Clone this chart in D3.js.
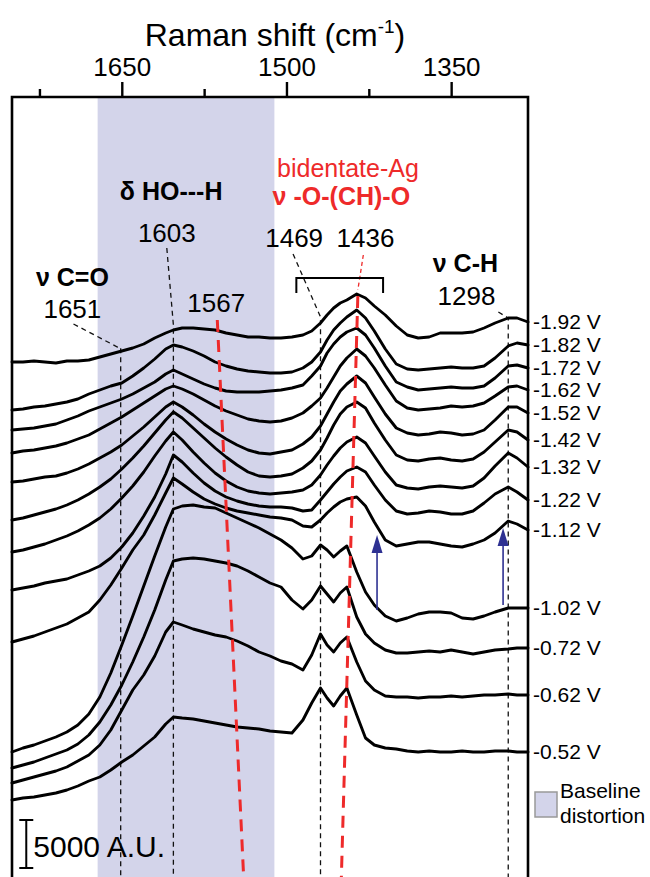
<!DOCTYPE html>
<html>
<head>
<meta charset="utf-8">
<script src="https://cdn.jsdelivr.net/npm/d3@7"></script>
<style>
  body { margin: 0; background: #fff; }
  svg { display: block; font-family: Arial, "Liberation Sans", sans-serif; }
</style>
</head>
<body>
<div id="chart"></div>
<script>
// Raman shift sampling (cm-1), shared by every spectrum
const wavenumbers = [1750, 1740, 1730, 1720, 1710, 1700, 1690, 1680, 1670, 1660,
  1650, 1640, 1630, 1620, 1610, 1603, 1595, 1585, 1575, 1565,
  1555, 1545, 1535, 1525, 1515, 1505, 1495, 1485, 1477, 1469,
  1463, 1457, 1451, 1445, 1436, 1428, 1420, 1410, 1400, 1390,
  1380, 1370, 1360, 1350, 1340, 1330, 1320, 1310, 1298, 1290, 1280];

const potentials = ["-1.92 V", "-1.82 V", "-1.72 V", "-1.62 V", "-1.52 V", "-1.42 V",
  "-1.32 V", "-1.22 V", "-1.12 V", "-1.02 V", "-0.72 V", "-0.62 V", "-0.52 V"];

// stacked intensities (offset included), 48 units = 5000 A.U.
const i192 = [515,515,516,515,514,516,516,517,520,523, 526,529,533,539,544,547,549,549,548,547, 544,542,540,540,539,539,540,542,546,554, 562,569,574,577,583,579,571,562,551,542, 539,540,544,544,544,545,549,554,559,559,555];
const i182 = [467,468,470,471,473,475,478,483,487,491, 494,501,509,518,528,532,530,526,521,515, 511,508,506,505,504,504,505,509,515,525, 537,547,554,560,567,559,546,528,513,508, 507,508,509,510,509,509,511,519,531,534,532];
const i172 = [447,448,449,451,453,457,461,466,470,474, 478,483,489,495,503,507,503,498,493,489, 486,485,485,485,486,487,489,492,501,511, 524,533,540,545,549,542,529,511,495,490, 487,488,489,490,489,489,491,499,511,512,509];
const i162 = [424,426,427,429,431,434,438,442,448,454, 460,467,474,481,488,491,488,483,477,471, 466,462,458,456,455,456,459,464,471,479, 489,500,511,519,528,521,509,492,476,469, 467,468,469,471,470,471,474,481,490,491,487];
const i152 = [395,396,398,400,401,404,408,413,419,425, 432,441,450,460,470,475,470,462,453,445, 438,432,427,424,423,425,427,433,440,451, 463,475,486,493,501,494,480,463,449,444, 442,443,445,444,442,443,447,457,470,470,464];
const i142 = [357,359,362,365,368,372,377,383,390,398, 408,419,431,444,457,465,459,449,439,429, 420,412,405,401,400,401,403,409,416,427, 439,452,463,470,475,469,454,437,422,417, 416,418,419,417,416,418,425,435,447,445,437];
const i132 = [325,327,330,333,337,341,346,352,359,368, 379,391,405,421,436,445,437,425,414,404, 396,390,386,384,383,384,385,387,392,402, 412,421,429,435,440,434,421,405,392,389, 388,390,391,390,389,391,399,411,424,419,410];
const i122 = [287,289,291,294,296,298,302,306,311,319, 330,344,361,380,403,422,415,404,394,386, 380,376,373,371,370,370,369,366,367,377, 385,393,400,406,410,405,392,377,366,363, 364,366,365,363,363,366,374,383,390,385,377];
const i112 = [235,238,241,245,249,253,259,265,277,292, 309,327,342,362,384,399,393,385,378,373, 369,366,364,362,360,359,357,351,350,357, 364,370,375,378,380,371,355,337,331,333, 335,335,333,331,330,333,337,344,356,353,347];
const i102 = [125,129,132,136,140,145,152,163,180,204, 232,261,291,321,350,368,371,372,370,369, 364,359,354,349,343,337,329,318,321,332, 327,320,326,331,305,285,272,261,256,259, 263,265,265,264,259,258,261,265,269,269,269];
const i072 = [109,112,115,119,123,127,133,142,155,172, 192,215,240,267,297,316,318,319,318,316, 314,311,306,300,294,290,277,268,277,291, 283,275,284,290,260,243,234,227,224,224, 225,226,225,227,225,223,225,227,228,229,229];
const i062 = [94,97,100,103,106,110,116,122,132,147, 167,187,202,221,245,255,252,248,245,242, 240,236,231,225,221,216,213,207,222,243, 232,225,234,240,215,196,187,181,180,180, 179,180,180,181,180,181,182,182,183,182,182];
const i052 = [77,79,80,82,84,87,91,96,100,107, 115,122,131,140,153,160,159,158,156,154, 152,150,149,148,146,145,144,157,174,189, 179,171,181,189,162,139,132,129,128,126, 125,126,125,125,126,125,125,126,126,125,125];
const spectra = [i192, i182, i172, i162, i152, i142, i132, i122, i112, i102, i072, i062, i052];

const majorTicks = [1650, 1500, 1350];
const minorTicks = [1725, 1575, 1425];
const shadeRange = [1672, 1511];

// guide lines: [wavenumber, intensity] vertices
const blackGuides = [
  [[1694, 553], [1654, 530], [1651, 530], [1651, 0]],
  [[1609, 629], [1603, 552], [1603, 0]],
  [[1494, 623], [1469, 560], [1469, 0]],
  [[1307, 565], [1298, 559], [1298, 0]]
];
const redGuides = [
  [[1563, 557], [1539, 0]],
  [[1435, 581], [1450, 0]]
];
const redLeader = [[1430, 622], [1435, 587]];
const bracket = [[1491, 584], [1491, 599], [1412, 599], [1412, 584]];
const arrows = [[1417.5, 267, 342], [1302.7, 272, 349]];

// annotation labels: [text, wavenumber, intensity, style]
const labels = [
  ["bidentate-Ag", 1444, 700, "red"],
  ["\u03bd -O-(CH)-O", 1450, 672, "redbold"],
  ["\u03b4 HO---H", 1605, 677, "bold"],
  ["1603", 1609, 635, "num"],
  ["1469", 1493, 630, "num"],
  ["1436", 1428, 630, "num"],
  ["\u03bd C=O", 1695, 591, "bold"],
  ["1651", 1695, 559, "num"],
  ["1567", 1564, 565, "num"],
  ["\u03bd C-H", 1337, 605, "bold"],
  ["1298", 1336, 572, "num"]
];

const width = 650, height = 877;
const svg = d3.select("#chart").append("svg")
  .attr("width", width)
  .attr("height", height);

const x = d3.scaleLinear().domain([1750, 1280]).range([12, 528]);
const y = d3.scaleLinear().domain([0, 780]).range([877, 97]);

//Baseline distortion band.
svg.append("rect")
  .attr("x", x(shadeRange[0]))
  .attr("width", x(shadeRange[1]) - x(shadeRange[0]))
  .attr("y", y(780))
  .attr("height", y(0) - y(780))
  .attr("fill", "#d3d4ea");

const guide = d3.line().x(d => x(d[0])).y(d => y(d[1]));

svg.selectAll("path.bguide").data(blackGuides)
  .enter().append("path")
  .attr("class", "bguide")
  .attr("d", guide)
  .attr("fill", "none")
  .attr("stroke", "#111")
  .attr("stroke-width", 1.3)
  .attr("stroke-dasharray", "5,4");

//Spectra.
const line = d3.line()
  .x((d, i) => x(wavenumbers[i]))
  .y(d => y(d));

svg.selectAll("path.spec").data(spectra)
  .enter().append("path")
  .attr("class", "spec")
  .attr("d", line)
  .attr("fill", "none")
  .attr("stroke", "#000")
  .attr("stroke-width", 2.9)
  .attr("stroke-linejoin", "round")
  .attr("stroke-linecap", "round");

svg.selectAll("path.rguide").data(redGuides)
  .enter().append("path")
  .attr("class", "rguide")
  .attr("d", guide)
  .attr("fill", "none")
  .attr("stroke", "#ee2a2a")
  .attr("stroke-width", 3)
  .attr("stroke-dasharray", "12,8");

svg.append("path")
  .attr("d", guide(redLeader))
  .attr("fill", "none")
  .attr("stroke", "#ee2a2a")
  .attr("stroke-width", 1.3)
  .attr("stroke-dasharray", "4,3");

svg.append("path")
  .attr("d", guide(bracket))
  .attr("fill", "none")
  .attr("stroke", "#000")
  .attr("stroke-width", 2);

//Blue arrows.
arrows.forEach(a => {
  const ax = x(a[0]), y0 = y(a[1]), y1 = y(a[2]);
  svg.append("line")
    .attr("x1", ax).attr("x2", ax)
    .attr("y1", y0).attr("y2", y1 + 14)
    .attr("stroke", "#2e3192")
    .attr("stroke-width", 1.6);
  svg.append("path")
    .attr("d", `M${ax},${y1} L${ax - 5.5},${y1 + 18} L${ax + 5.5},${y1 + 18} Z`)
    .attr("fill", "#2e3192");
});

//Frame.
svg.append("path")
  .attr("d", `M${x(1750)},${y(0)} V${y(780)} H${x(1280)} V${y(0)}`)
  .attr("fill", "none")
  .attr("stroke", "#000")
  .attr("stroke-width", 2.6);

//Top axis.
const axisG = svg.append("g")
  .attr("transform", `translate(0,${y(780)})`)
  .call(d3.axisTop(x).tickValues(majorTicks).tickSize(15).tickPadding(6).tickFormat(d3.format("d")));
axisG.append("g")
  .call(d3.axisTop(x).tickValues(minorTicks).tickSize(8).tickFormat(""));
axisG.selectAll(".domain").remove();
axisG.selectAll(".tick line").attr("stroke", "#000").attr("stroke-width", 2.4);
axisG.selectAll(".tick text")
  .attr("font-size", 26)
  .attr("font-family", "Arial, 'Liberation Sans', sans-serif")
  .attr("fill", "#000");

const title = svg.append("text")
  .attr("x", 275)
  .attr("y", 46)
  .attr("text-anchor", "middle")
  .attr("font-size", 32)
  .attr("fill", "#000");
title.append("tspan").text("Raman shift (cm");
title.append("tspan").attr("font-size", 19).attr("dy", -13).text("-1");
title.append("tspan").attr("dy", 13).text(")");

//Peak labels.
svg.selectAll("text.lab").data(labels)
  .enter().append("text")
  .attr("class", "lab")
  .attr("x", d => x(d[1]))
  .attr("y", d => y(d[2]))
  .attr("text-anchor", "middle")
  .attr("font-size", d => d[3] === "num" ? 26 : 25)
  .attr("font-weight", d => (d[3] === "bold" || d[3] === "redbold") ? "bold" : "normal")
  .attr("fill", d => d[3].startsWith("red") ? "#ee2a2a" : "#000")
  .text(d => d[0]);

//Potential labels at the right ends.
svg.selectAll("text.pot").data(spectra)
  .enter().append("text")
  .attr("class", "pot")
  .attr("x", 533)
  .attr("y", d => y(d[d.length - 1]) - 1)
  .attr("dy", "0.36em")
  .attr("font-size", 21)
  .attr("fill", "#000")
  .text((d, i) => potentials[i]);

//Scale bar, 48 units = 5000 A.U.
const barX = x(1737);
svg.append("path")
  .attr("d", `M${barX - 7},${y(57)} H${barX + 7} M${barX},${y(57)} V${y(9)} M${barX - 7},${y(9)} H${barX + 7}`)
  .attr("stroke", "#000")
  .attr("stroke-width", 2)
  .attr("fill", "none");
svg.append("text")
  .attr("x", barX + 7)
  .attr("y", y(20))
  .attr("font-size", 30)
  .attr("fill", "#000")
  .text("5000 A.U.");

//Legend.
svg.append("rect")
  .attr("x", 535).attr("y", 792)
  .attr("width", 22).attr("height", 25)
  .attr("fill", "#d3d4ea")
  .attr("stroke", "#999")
  .attr("stroke-width", 1.5);
svg.append("text").attr("x", 560).attr("y", 798).attr("font-size", 21).text("Baseline");
svg.append("text").attr("x", 560).attr("y", 823).attr("font-size", 21).text("distortion");
</script>
</body>
</html>
